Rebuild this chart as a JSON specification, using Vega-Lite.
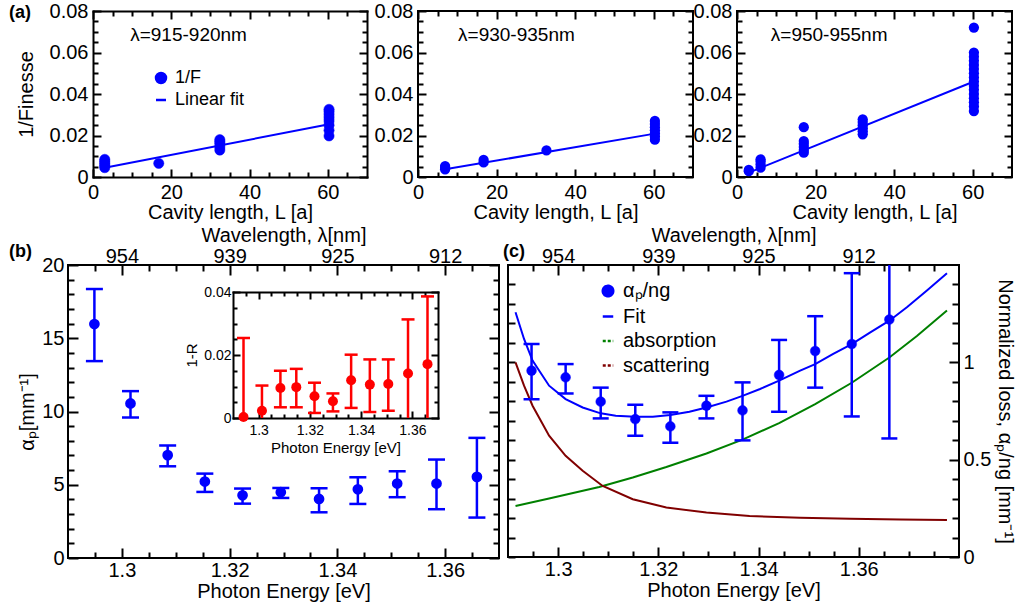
{
  "$schema": "https://vega.github.io/schema/vega-lite/v6.json",
  "background": "white",
  "autosize": {"type": "pad"},
  "padding": {"left": 8, "top": 0, "right": 0, "bottom": 0},
  "config": {
    "font": "Liberation Sans",
    "view": {"stroke": "black", "strokeWidth": 2},
    "axis": {"grid": false, "domain": false, "labelFont": "Liberation Sans", "titleFont": "Liberation Sans", "labelFontSize": 20, "titleFontSize": 20, "titleFontWeight": "normal", "labelColor": "black", "titleColor": "black", "tickColor": "black", "tickWidth": 2, "labelOverlap": false, "labelFlush": false},
    "legend": {"labelFont": "Liberation Sans", "labelColor": "black"},
    "title": {"font": "Liberation Sans", "color": "black"}
  },
  "spacing": 1,
  "resolve": {"scale": {"fill": "independent", "stroke": "independent", "shape": "independent", "strokeDash": "independent"}},
  "vconcat": [
    {
      "spacing": 5,
      "resolve": {"scale": {"fill": "independent", "stroke": "independent", "shape": "independent"}},
      "hconcat": [
        {
          "width": 299, "height": 166,
          "view": {"stroke": null},
          "title": {"text": "(a)", "frame": "group", "anchor": "start", "dx": -59, "offset": -21, "baseline": "top", "fontSize": 18, "fontWeight": "bold"},
          "layer": [
            {
              "data": {"values": [
                {"L": 3, "F": 0.0045, "s": "1/F"}, {"L": 3, "F": 0.0055, "s": "1/F"}, {"L": 3, "F": 0.0065, "s": "1/F"}, {"L": 3, "F": 0.0075, "s": "1/F"}, {"L": 3, "F": 0.0085, "s": "1/F"},
                {"L": 16.8, "F": 0.0066, "s": "1/F"},
                {"L": 32.4, "F": 0.013, "s": "1/F"}, {"L": 32.4, "F": 0.0145, "s": "1/F"}, {"L": 32.4, "F": 0.016, "s": "1/F"}, {"L": 32.4, "F": 0.017, "s": "1/F"}, {"L": 32.4, "F": 0.018, "s": "1/F"},
                {"L": 60.3, "F": 0.0198, "s": "1/F"}, {"L": 60.3, "F": 0.0225, "s": "1/F"}, {"L": 60.3, "F": 0.025, "s": "1/F"}, {"L": 60.3, "F": 0.027, "s": "1/F"}, {"L": 60.3, "F": 0.0285, "s": "1/F"}, {"L": 60.3, "F": 0.030, "s": "1/F"}, {"L": 60.3, "F": 0.0315, "s": "1/F"}, {"L": 60.3, "F": 0.0326, "s": "1/F"}
              ]},
              "mark": {"type": "point", "filled": true, "size": 105, "opacity": 1, "strokeWidth": 0.5},
              "encoding": {
                "x": {"field": "L", "type": "quantitative", "scale": {"domain": [0, 70], "nice": false, "zero": false, "range": [25, 299]},
                  "axis": {"orient": "bottom", "values": [0,5,10,15,20,25,30,35,40,45,50,55,60,65], "labelExpr": "datum.value % 20 == 0 ? datum.label : ''", "tickSize": {"condition": {"test": "datum.value % 20 == 0", "value": -8}, "value": -5}, "labelPadding": 13, "title": "Cavity length, L [a]", "titlePadding": -3, "domain": true, "domainWidth": 2, "domainColor": "black", "domainCap": "square"}},
                "y": {"field": "F", "type": "quantitative", "scale": {"domain": [0, 0.08], "nice": false},
                  "axis": {"orient": "left", "offset": -25, "values": [0,0.005,0.01,0.015,0.02,0.025,0.03,0.035,0.04,0.045,0.05,0.055,0.06,0.065,0.07,0.075,0.08], "labelExpr": "abs(datum.value*50-round(datum.value*50))<1e-6 ? (datum.value == 0 ? '0' : format(datum.value, '.2f')) : ''", "tickSize": {"condition": {"test": "abs(datum.value*50-round(datum.value*50))<1e-6", "value": -8}, "value": -5}, "labelPadding": 13, "title": "1/Finesse", "titlePadding": 13, "domain": true, "domainWidth": 2, "domainColor": "black", "domainCap": "square"}},
                "fill": {"field": "s", "type": "nominal", "scale": {"domain": ["1/F", "Linear fit"], "range": ["#0000ff", "#0000ff"]},
                  "legend": {"title": null, "orient": "none", "legendX": 84, "legendY": 58, "labelFontSize": 18, "symbolSize": 100, "symbolStrokeWidth": 2.5, "rowPadding": 3, "labelOffset": 5, "padding": 0}},
                "stroke": {"field": "s", "type": "nominal", "scale": {"domain": ["1/F", "Linear fit"], "range": ["#0000ff", "#0000ff"]}},
                "shape": {"field": "s", "type": "nominal", "scale": {"domain": ["1/F", "Linear fit"], "range": ["circle", "stroke"]}}
              }
            },
            {
              "data": {"values": [{"L": 3, "F": 0.0045}, {"L": 60.3, "F": 0.0254}]},
              "mark": {"type": "line", "color": "#0000ff", "strokeWidth": 2},
              "encoding": {
                "x": {"field": "L", "type": "quantitative", "axis": {"orient": "top", "values": [0,5,10,15,20,25,30,35,40,45,50,55,60,65], "labels": false, "title": null, "tickSize": {"condition": {"test": "datum.value % 20 == 0", "value": -8}, "value": -5}, "domain": true, "domainWidth": 2, "domainColor": "black", "domainCap": "square"}},
                "y": {"field": "F", "type": "quantitative", "axis": {"orient": "right", "values": [0,0.005,0.01,0.015,0.02,0.025,0.03,0.035,0.04,0.045,0.05,0.055,0.06,0.065,0.07,0.075,0.08], "labels": false, "title": null, "tickSize": {"condition": {"test": "abs(datum.value*50-round(datum.value*50))<1e-6", "value": -8}, "value": -5}, "domain": true, "domainWidth": 2, "domainColor": "black", "domainCap": "square"}}
              }
            },
            {
              "data": {"values": [{}]},
              "mark": {"type": "text", "align": "left", "baseline": "middle", "fontSize": 19, "font": "Liberation Sans", "color": "black"},
              "encoding": {
                "x": {"datum": 9.5, "type": "quantitative", "axis": null},
                "y": {"datum": 0.0685, "type": "quantitative", "axis": null},
                "text": {"value": "λ=915-920nm"}
              }
            }
          ],
          "resolve": {"axis": {"x": "independent", "y": "independent"}}
        },
        {
          "spacing": -3,
          "hconcat": [
            {
              "width": 275, "height": 166,
              "layer": [
                {
                  "data": {"values": [
                    {"L": 6.9, "F": 0.0037}, {"L": 6.9, "F": 0.0045}, {"L": 6.9, "F": 0.0053},
                    {"L": 16.7, "F": 0.007}, {"L": 16.7, "F": 0.0082},
                    {"L": 32.7, "F": 0.0128},
                    {"L": 60.3, "F": 0.018}, {"L": 60.3, "F": 0.0195}, {"L": 60.3, "F": 0.021}, {"L": 60.3, "F": 0.0225}, {"L": 60.3, "F": 0.024}, {"L": 60.3, "F": 0.0255}, {"L": 60.3, "F": 0.027}
                  ]},
                  "mark": {"type": "circle", "size": 105, "opacity": 1, "color": "#0000ff"},
                  "encoding": {
                    "x": {"field": "L", "type": "quantitative", "scale": {"domain": [0, 70], "nice": false, "zero": false},
                      "axis": {"orient": "bottom", "values": [0,5,10,15,20,25,30,35,40,45,50,55,60,65], "labelExpr": "datum.value % 20 == 0 ? datum.label : ''", "tickSize": {"condition": {"test": "datum.value % 20 == 0", "value": -8}, "value": -5}, "labelPadding": 13, "title": "Cavity length, L [a]", "titlePadding": -3}},
                    "y": {"field": "F", "type": "quantitative", "scale": {"domain": [0, 0.08], "nice": false},
                      "axis": {"orient": "left", "values": [0,0.005,0.01,0.015,0.02,0.025,0.03,0.035,0.04,0.045,0.05,0.055,0.06,0.065,0.07,0.075,0.08], "labelExpr": "abs(datum.value*50-round(datum.value*50))<1e-6 ? (datum.value == 0 ? '0' : format(datum.value, '.2f')) : ''", "tickSize": {"condition": {"test": "abs(datum.value*50-round(datum.value*50))<1e-6", "value": -8}, "value": -5}, "labelPadding": 13, "title": null}}
                  }
                },
                {
                  "data": {"values": [{"L": 6.9, "F": 0.0037}, {"L": 60.3, "F": 0.0209}]},
                  "mark": {"type": "line", "color": "#0000ff", "strokeWidth": 2},
                  "encoding": {
                    "x": {"field": "L", "type": "quantitative", "axis": {"orient": "top", "values": [0,5,10,15,20,25,30,35,40,45,50,55,60,65], "labels": false, "title": null, "tickSize": {"condition": {"test": "datum.value % 20 == 0", "value": -8}, "value": -5}}},
                    "y": {"field": "F", "type": "quantitative", "axis": {"orient": "right", "values": [0,0.005,0.01,0.015,0.02,0.025,0.03,0.035,0.04,0.045,0.05,0.055,0.06,0.065,0.07,0.075,0.08], "labels": false, "title": null, "tickSize": {"condition": {"test": "abs(datum.value*50-round(datum.value*50))<1e-6", "value": -8}, "value": -5}}}
                  }
                },
                {
                  "data": {"values": [{}]},
                  "mark": {"type": "text", "align": "left", "baseline": "middle", "fontSize": 19, "font": "Liberation Sans", "color": "black"},
                  "encoding": {
                    "x": {"datum": 10.2, "type": "quantitative", "axis": null},
                    "y": {"datum": 0.0685, "type": "quantitative", "axis": null},
                    "text": {"value": "λ=930-935nm"}
                  }
                }
              ],
              "resolve": {"axis": {"x": "independent", "y": "independent"}}
            },
            {
              "width": 275, "height": 166,
              "layer": [
                {
                  "data": {"values": [
                    {"L": 3, "F": 0.0028}, {"L": 3, "F": 0.0034},
                    {"L": 6, "F": 0.0045}, {"L": 6, "F": 0.006}, {"L": 6, "F": 0.0075}, {"L": 6, "F": 0.0085},
                    {"L": 17, "F": 0.0117}, {"L": 17, "F": 0.013}, {"L": 17, "F": 0.0145}, {"L": 17, "F": 0.016}, {"L": 17, "F": 0.0173}, {"L": 17, "F": 0.024},
                    {"L": 32, "F": 0.0206}, {"L": 32, "F": 0.022}, {"L": 32, "F": 0.0235}, {"L": 32, "F": 0.025}, {"L": 32, "F": 0.0265}, {"L": 32, "F": 0.0278},
                    {"L": 60.3, "F": 0.0318}, {"L": 60.3, "F": 0.034}, {"L": 60.3, "F": 0.036}, {"L": 60.3, "F": 0.038}, {"L": 60.3, "F": 0.040}, {"L": 60.3, "F": 0.042}, {"L": 60.3, "F": 0.044}, {"L": 60.3, "F": 0.046}, {"L": 60.3, "F": 0.048}, {"L": 60.3, "F": 0.050}, {"L": 60.3, "F": 0.052}, {"L": 60.3, "F": 0.054}, {"L": 60.3, "F": 0.056}, {"L": 60.3, "F": 0.058}, {"L": 60.3, "F": 0.060}, {"L": 60.3, "F": 0.072}
                  ]},
                  "mark": {"type": "circle", "size": 105, "opacity": 1, "color": "#0000ff"},
                  "encoding": {
                    "x": {"field": "L", "type": "quantitative", "scale": {"domain": [0, 70], "nice": false, "zero": false},
                      "axis": {"orient": "bottom", "values": [0,5,10,15,20,25,30,35,40,45,50,55,60,65], "labelExpr": "datum.value % 20 == 0 ? datum.label : ''", "tickSize": {"condition": {"test": "datum.value % 20 == 0", "value": -8}, "value": -5}, "labelPadding": 13, "title": "Cavity length, L [a]", "titlePadding": -3}},
                    "y": {"field": "F", "type": "quantitative", "scale": {"domain": [0, 0.08], "nice": false},
                      "axis": {"orient": "left", "values": [0,0.005,0.01,0.015,0.02,0.025,0.03,0.035,0.04,0.045,0.05,0.055,0.06,0.065,0.07,0.075,0.08], "labelExpr": "abs(datum.value*50-round(datum.value*50))<1e-6 ? (datum.value == 0 ? '0' : format(datum.value, '.2f')) : ''", "tickSize": {"condition": {"test": "abs(datum.value*50-round(datum.value*50))<1e-6", "value": -8}, "value": -5}, "labelPadding": 13, "title": null}}
                  }
                },
                {
                  "data": {"values": [{"L": 3, "F": 0.0021}, {"L": 60.3, "F": 0.046}]},
                  "mark": {"type": "line", "color": "#0000ff", "strokeWidth": 2},
                  "encoding": {
                    "x": {"field": "L", "type": "quantitative", "axis": {"orient": "top", "values": [0,5,10,15,20,25,30,35,40,45,50,55,60,65], "labels": false, "title": null, "tickSize": {"condition": {"test": "datum.value % 20 == 0", "value": -8}, "value": -5}}},
                    "y": {"field": "F", "type": "quantitative", "axis": {"orient": "right", "values": [0,0.005,0.01,0.015,0.02,0.025,0.03,0.035,0.04,0.045,0.05,0.055,0.06,0.065,0.07,0.075,0.08], "labels": false, "title": null, "tickSize": {"condition": {"test": "abs(datum.value*50-round(datum.value*50))<1e-6", "value": -8}, "value": -5}}}
                  }
                },
                {
                  "data": {"values": [{}]},
                  "mark": {"type": "text", "align": "left", "baseline": "middle", "fontSize": 19, "font": "Liberation Sans", "color": "black"},
                  "encoding": {
                    "x": {"datum": 8.6, "type": "quantitative", "axis": null},
                    "y": {"datum": 0.0685, "type": "quantitative", "axis": null},
                    "text": {"value": "λ=950-955nm"}
                  }
                }
              ],
              "resolve": {"axis": {"x": "independent", "y": "independent"}}
            }
          ]
        }
      ]
    },
    {
      "spacing": 1,
      "resolve": {"scale": {"fill": "independent", "stroke": "independent", "shape": "independent", "strokeDash": "independent"}},
      "hconcat": [
        {
          "width": 431, "height": 293,
          "title": {"text": "(b)", "frame": "group", "anchor": "start", "dx": -59, "offset": -36, "baseline": "top", "fontSize": 18, "fontWeight": "bold"},
          "layer": [
            {
              "data": {"values": [
                {"E": 1.2949, "a": 15.97, "lo": 13.44, "hi": 18.36},
                {"E": 1.3016, "a": 10.55, "lo": 9.59, "hi": 11.39},
                {"E": 1.3085, "a": 7.02, "lo": 6.26, "hi": 7.68},
                {"E": 1.3154, "a": 5.22, "lo": 4.51, "hi": 5.76},
                {"E": 1.3224, "a": 4.28, "lo": 3.71, "hi": 4.74},
                {"E": 1.3295, "a": 4.49, "lo": 4.10, "hi": 4.78},
                {"E": 1.3366, "a": 4.03, "lo": 3.12, "hi": 4.76},
                {"E": 1.3438, "a": 4.69, "lo": 3.69, "hi": 5.51},
                {"E": 1.3511, "a": 5.08, "lo": 4.15, "hi": 5.92},
                {"E": 1.3584, "a": 5.08, "lo": 3.33, "hi": 6.72},
                {"E": 1.3659, "a": 5.54, "lo": 2.76, "hi": 8.20}
              ]},
              "layer": [
                {
                  "mark": {"type": "rule", "color": "#0000ff", "strokeWidth": 2.5},
                  "encoding": {
                    "x": {"field": "E", "type": "quantitative", "scale": {"domain": [1.29, 1.37], "nice": false, "zero": false},
                      "axis": {"orient": "top", "values": [1.295,1.3,1.305,1.31,1.315,1.32,1.325,1.33,1.335,1.34,1.345,1.35,1.355,1.36,1.365], "labelExpr": "abs(datum.value*50-round(datum.value*50))<1e-6 ? format(1239.84/datum.value, '.0f') : ''", "tickSize": {"condition": {"test": "abs(datum.value*50-round(datum.value*50))<1e-6", "value": -10}, "value": -6}, "labelPadding": 9, "title": "Wavelength, λ[nm]", "titlePadding": -3}},
                    "y": {"field": "lo", "type": "quantitative", "scale": {"domain": [0, 20], "nice": false},
                      "axis": {"orient": "right", "values": [0,1,2,3,4,5,6,7,8,9,10,11,12,13,14,15,16,17,18,19,20], "labels": false, "title": null, "tickSize": {"condition": {"test": "datum.value % 5 == 0", "value": -10}, "value": -6}}},
                    "y2": {"field": "hi"}
                  }
                },
                {
                  "mark": {"type": "tick", "orient": "horizontal", "color": "#0000ff", "size": 17, "thickness": 2.5, "opacity": 1},
                  "encoding": {
                    "x": {"field": "E", "type": "quantitative", "axis": null},
                    "y": {"field": "hi", "type": "quantitative", "axis": null}
                  }
                },
                {
                  "mark": {"type": "tick", "orient": "horizontal", "color": "#0000ff", "size": 17, "thickness": 2.5, "opacity": 1},
                  "encoding": {
                    "x": {"field": "E", "type": "quantitative", "axis": null},
                    "y": {"field": "lo", "type": "quantitative", "axis": null}
                  }
                },
                {
                  "mark": {"type": "circle", "color": "#0000ff", "size": 115, "opacity": 1},
                  "encoding": {
                    "x": {"field": "E", "type": "quantitative",
                      "axis": {"orient": "bottom", "values": [1.295,1.3,1.305,1.31,1.315,1.32,1.325,1.33,1.335,1.34,1.345,1.35,1.355,1.36,1.365], "labelExpr": "abs(datum.value*50-round(datum.value*50))<1e-6 ? format(datum.value, '~g') : ''", "tickSize": {"condition": {"test": "abs(datum.value*50-round(datum.value*50))<1e-6", "value": -10}, "value": -6}, "labelPadding": 12, "title": "Photon Energy [eV]", "titlePadding": -3}},
                    "y": {"field": "a", "type": "quantitative",
                      "axis": {"orient": "left", "values": [0,1,2,3,4,5,6,7,8,9,10,11,12,13,14,15,16,17,18,19,20], "labelExpr": "datum.value % 5 == 0 ? datum.label : ''", "tickSize": {"condition": {"test": "datum.value % 5 == 0", "value": -10}, "value": -6}, "labelPadding": 14, "title": "αₚ[mm⁻¹]", "titlePadding": 4}}
                  }
                }
              ],
              "resolve": {"axis": {"x": "independent", "y": "independent"}}
            },
            {
              "data": {"values": [
                {"E": 1.2941, "r": 0.0003, "lo": 0, "hi": 0.0254},
                {"E": 1.3013, "r": 0.0023, "lo": 0, "hi": 0.0103},
                {"E": 1.3085, "r": 0.0095, "lo": 0.0034, "hi": 0.0150},
                {"E": 1.3147, "r": 0.0098, "lo": 0.0034, "hi": 0.0156},
                {"E": 1.3218, "r": 0.0069, "lo": 0.0016, "hi": 0.0112},
                {"E": 1.3290, "r": 0.0053, "lo": 0.0021, "hi": 0.0078},
                {"E": 1.3361, "r": 0.0120, "lo": 0.0032, "hi": 0.0201},
                {"E": 1.3434, "r": 0.0106, "lo": 0.0019, "hi": 0.0186},
                {"E": 1.3506, "r": 0.0108, "lo": 0.0023, "hi": 0.0186},
                {"E": 1.3583, "r": 0.0141, "lo": 0, "hi": 0.0313},
                {"E": 1.3659, "r": 0.0171, "lo": 0, "hi": 0.0386}
              ]},
              "layer": [
                {
                  "mark": {"type": "rule", "color": "#ff0000", "strokeWidth": 2.5},
                  "encoding": {
                    "x": {"field": "E", "type": "quantitative", "scale": {"domain": [1.29, 1.37], "nice": false, "zero": false, "range": [165, 370]},
                      "axis": {"orient": "top", "offset": -27, "values": [1.295,1.3,1.305,1.31,1.315,1.32,1.325,1.33,1.335,1.34,1.345,1.35,1.355,1.36,1.365], "labels": false, "title": null, "tickSize": {"condition": {"test": "abs(datum.value*50-round(datum.value*50))<1e-6", "value": -7}, "value": -4}, "domain": true, "domainWidth": 2, "domainColor": "black", "domainCap": "square"}},
                    "y": {"field": "lo", "type": "quantitative", "scale": {"domain": [0, 0.04], "nice": false, "range": [153, 27]},
                      "axis": {"orient": "right", "offset": -61, "values": [0,0.005,0.01,0.015,0.02,0.025,0.03,0.035,0.04], "labels": false, "title": null, "tickSize": {"condition": {"test": "abs(datum.value*50-round(datum.value*50))<1e-6", "value": -7}, "value": -4}, "domain": true, "domainWidth": 2, "domainColor": "black", "domainCap": "square"}},
                    "y2": {"field": "hi"}
                  }
                },
                {
                  "mark": {"type": "tick", "orient": "horizontal", "color": "#ff0000", "size": 13, "thickness": 2.5, "opacity": 1},
                  "encoding": {
                    "x": {"field": "E", "type": "quantitative", "axis": null},
                    "y": {"field": "hi", "type": "quantitative", "axis": null}
                  }
                },
                {
                  "transform": [{"filter": "datum.lo > 0"}],
                  "mark": {"type": "tick", "orient": "horizontal", "color": "#ff0000", "size": 13, "thickness": 2.5, "opacity": 1},
                  "encoding": {
                    "x": {"field": "E", "type": "quantitative", "axis": null},
                    "y": {"field": "lo", "type": "quantitative", "axis": null}
                  }
                },
                {
                  "mark": {"type": "circle", "color": "#ff0000", "size": 100, "opacity": 1},
                  "encoding": {
                    "x": {"field": "E", "type": "quantitative",
                      "axis": {"orient": "bottom", "offset": -140, "values": [1.295,1.3,1.305,1.31,1.315,1.32,1.325,1.33,1.335,1.34,1.345,1.35,1.355,1.36,1.365], "labelExpr": "abs(datum.value*50-round(datum.value*50))<1e-6 ? format(datum.value, '~g') : ''", "tickSize": {"condition": {"test": "abs(datum.value*50-round(datum.value*50))<1e-6", "value": -7}, "value": -4}, "labelPadding": 12, "labelFontSize": 14, "title": "Photon Energy [eV]", "titleFontSize": 15, "titlePadding": 0, "domain": true, "domainWidth": 2, "domainColor": "black", "domainCap": "square"}},
                    "y": {"field": "r", "type": "quantitative",
                      "axis": {"orient": "left", "offset": -165, "values": [0,0.005,0.01,0.015,0.02,0.025,0.03,0.035,0.04], "labelExpr": "abs(datum.value*50-round(datum.value*50))<1e-6 ? (datum.value == 0 ? '0' : format(datum.value, '.2f')) : ''", "tickSize": {"condition": {"test": "abs(datum.value*50-round(datum.value*50))<1e-6", "value": -7}, "value": -4}, "labelPadding": 9, "labelFontSize": 14, "title": "1-R", "titleFontSize": 15, "titlePadding": 4, "domain": true, "domainWidth": 2, "domainColor": "black", "domainCap": "square"}}
                  }
                }
              ],
              "resolve": {"axis": {"x": "independent", "y": "independent"}}
            }
          ],
          "resolve": {"scale": {"x": "independent", "y": "independent"}}
        },
        {
          "width": 451, "height": 292,
          "title": {"text": "(c)", "frame": "group", "anchor": "start", "dx": -5, "offset": -36, "baseline": "top", "fontSize": 18, "fontWeight": "bold"},
          "layer": [
            {
              "data": {"values": [
                {"E": 1.2915, "v": 1.257, "s": "Fit"}, {"E": 1.2932, "v": 1.120, "s": "Fit"}, {"E": 1.2949, "v": 1.009, "s": "Fit"}, {"E": 1.2982, "v": 0.880, "s": "Fit"}, {"E": 1.3015, "v": 0.811, "s": "Fit"}, {"E": 1.3049, "v": 0.768, "s": "Fit"}, {"E": 1.3085, "v": 0.738, "s": "Fit"}, {"E": 1.3115, "v": 0.726, "s": "Fit"}, {"E": 1.3154, "v": 0.720, "s": "Fit"}, {"E": 1.3189, "v": 0.720, "s": "Fit"}, {"E": 1.3224, "v": 0.729, "s": "Fit"}, {"E": 1.3262, "v": 0.746, "s": "Fit"}, {"E": 1.3296, "v": 0.768, "s": "Fit"}, {"E": 1.3336, "v": 0.798, "s": "Fit"}, {"E": 1.3368, "v": 0.828, "s": "Fit"}, {"E": 1.3403, "v": 0.863, "s": "Fit"}, {"E": 1.3441, "v": 0.906, "s": "Fit"}, {"E": 1.3483, "v": 0.957, "s": "Fit"}, {"E": 1.3513, "v": 0.991, "s": "Fit"}, {"E": 1.3549, "v": 1.043, "s": "Fit"}, {"E": 1.3586, "v": 1.094, "s": "Fit"}, {"E": 1.3623, "v": 1.154, "s": "Fit"}, {"E": 1.3661, "v": 1.214, "s": "Fit"}, {"E": 1.3696, "v": 1.283, "s": "Fit"}, {"E": 1.3736, "v": 1.369, "s": "Fit"}, {"E": 1.3776, "v": 1.458, "s": "Fit"},
                {"E": 1.2915, "v": 0.262, "s": "absorption"}, {"E": 1.2982, "v": 0.300, "s": "absorption"}, {"E": 1.3082, "v": 0.360, "s": "absorption"}, {"E": 1.3149, "v": 0.408, "s": "absorption"}, {"E": 1.3216, "v": 0.462, "s": "absorption"}, {"E": 1.3296, "v": 0.532, "s": "absorption"}, {"E": 1.3368, "v": 0.603, "s": "absorption"}, {"E": 1.3441, "v": 0.688, "s": "absorption"}, {"E": 1.3513, "v": 0.785, "s": "absorption"}, {"E": 1.3586, "v": 0.895, "s": "absorption"}, {"E": 1.3661, "v": 1.025, "s": "absorption"}, {"E": 1.3716, "v": 1.135, "s": "absorption"}, {"E": 1.3776, "v": 1.266, "s": "absorption"},
                {"E": 1.2915, "v": 1.0, "s": "scattering"}, {"E": 1.2932, "v": 0.880, "s": "scattering"}, {"E": 1.2949, "v": 0.777, "s": "scattering"}, {"E": 1.2982, "v": 0.623, "s": "scattering"}, {"E": 1.3015, "v": 0.520, "s": "scattering"}, {"E": 1.3049, "v": 0.443, "s": "scattering"}, {"E": 1.3089, "v": 0.365, "s": "scattering"}, {"E": 1.3149, "v": 0.297, "s": "scattering"}, {"E": 1.3216, "v": 0.254, "s": "scattering"}, {"E": 1.3296, "v": 0.228, "s": "scattering"}, {"E": 1.3382, "v": 0.211, "s": "scattering"}, {"E": 1.3483, "v": 0.201, "s": "scattering"}, {"E": 1.3583, "v": 0.196, "s": "scattering"}, {"E": 1.3683, "v": 0.192, "s": "scattering"}, {"E": 1.3776, "v": 0.190, "s": "scattering"}
              ]},
              "mark": {"type": "line", "strokeWidth": 2},
              "encoding": {
                "x": {"field": "E", "type": "quantitative", "scale": {"domain": [1.29, 1.38], "nice": false, "zero": false},
                  "axis": {"orient": "bottom", "values": [1.295,1.3,1.305,1.31,1.315,1.32,1.325,1.33,1.335,1.34,1.345,1.35,1.355,1.36,1.365,1.37,1.375], "labelExpr": "abs(datum.value*50-round(datum.value*50))<1e-6 ? format(datum.value, '~g') : ''", "tickSize": {"condition": {"test": "abs(datum.value*50-round(datum.value*50))<1e-6", "value": -10}, "value": -6}, "labelPadding": 12, "title": "Photon Energy [eV]", "titlePadding": -3}},
                "y": {"field": "v", "type": "quantitative", "scale": {"domain": [0, 1.5], "nice": false},
                  "axis": {"orient": "left", "values": [0,0.1,0.2,0.3,0.4,0.5,0.6,0.7,0.8,0.9,1,1.1,1.2,1.3,1.4], "labels": false, "title": null, "tickSize": -7}},
                "stroke": {"field": "s", "type": "nominal",
                  "scale": {"domain": ["αₚ/ng", "Fit", "absorption", "scattering"], "range": ["#0000ff", "#0000ff", "#008000", "#800000"]}}
              }
            },
            {
              "data": {"name": "cpts", "values": [
                {"E": 1.2947, "v": 0.957, "lo": 0.811, "hi": 1.094, "s": "αₚ/ng"},
                {"E": 1.3015, "v": 0.923, "lo": 0.840, "hi": 0.991, "s": "αₚ/ng"},
                {"E": 1.3085, "v": 0.798, "lo": 0.712, "hi": 0.870, "s": "αₚ/ng"},
                {"E": 1.3154, "v": 0.708, "lo": 0.623, "hi": 0.782, "s": "αₚ/ng"},
                {"E": 1.3224, "v": 0.671, "lo": 0.587, "hi": 0.743, "s": "αₚ/ng"},
                {"E": 1.3296, "v": 0.777, "lo": 0.712, "hi": 0.828, "s": "αₚ/ng"},
                {"E": 1.3368, "v": 0.753, "lo": 0.599, "hi": 0.897, "s": "αₚ/ng"},
                {"E": 1.3441, "v": 0.935, "lo": 0.746, "hi": 1.115, "s": "αₚ/ng"},
                {"E": 1.3513, "v": 1.058, "lo": 0.870, "hi": 1.237, "s": "αₚ/ng"},
                {"E": 1.3586, "v": 1.094, "lo": 0.722, "hi": 1.458, "s": "αₚ/ng"},
                {"E": 1.3661, "v": 1.220, "lo": 0.609, "hi": 1.62, "s": "αₚ/ng"}
              ]},
              "mark": {"type": "rule", "color": "#0000ff", "strokeWidth": 2.5, "clip": true},
              "encoding": {
                "x": {"field": "E", "type": "quantitative",
                  "axis": {"orient": "top", "values": [1.295,1.3,1.305,1.31,1.315,1.32,1.325,1.33,1.335,1.34,1.345,1.35,1.355,1.36,1.365,1.37,1.375], "labelExpr": "abs(datum.value*50-round(datum.value*50))<1e-6 ? format(1239.84/datum.value, '.0f') : ''", "tickSize": {"condition": {"test": "abs(datum.value*50-round(datum.value*50))<1e-6", "value": -10}, "value": -6}, "labelPadding": 9, "title": "Wavelength, λ[nm]", "titlePadding": -3}},
                "y": {"field": "lo", "type": "quantitative",
                  "axis": {"orient": "right", "values": [0,0.1,0.2,0.3,0.4,0.5,0.6,0.7,0.8,0.9,1,1.1,1.2,1.3,1.4], "labelExpr": "abs(datum.value*2-round(datum.value*2))<1e-6 ? format(datum.value, '~g') : ''", "tickSize": {"condition": {"test": "abs(datum.value*2-round(datum.value*2))<1e-6", "value": -10}, "value": -7}, "labelPadding": 14, "title": "Normalized loss, αₚ/ng [mm⁻¹]", "titlePadding": 4}},
                "y2": {"field": "hi"}
              }
            },
            {
              "data": {"name": "cpts"},
              "mark": {"type": "tick", "orient": "horizontal", "color": "#0000ff", "size": 16, "thickness": 2.5, "opacity": 1, "clip": true},
              "encoding": {
                "x": {"field": "E", "type": "quantitative", "axis": null},
                "y": {"field": "hi", "type": "quantitative", "axis": null}
              }
            },
            {
              "data": {"name": "cpts"},
              "mark": {"type": "tick", "orient": "horizontal", "color": "#0000ff", "size": 16, "thickness": 2.5, "opacity": 1},
              "encoding": {
                "x": {"field": "E", "type": "quantitative", "axis": null},
                "y": {"field": "lo", "type": "quantitative", "axis": null}
              }
            },
            {
              "data": {"name": "cpts"},
              "mark": {"type": "point", "filled": true, "size": 95, "opacity": 1, "strokeWidth": 0.5},
              "encoding": {
                "x": {"field": "E", "type": "quantitative", "axis": null},
                "y": {"field": "v", "type": "quantitative", "axis": null},
                "fill": {"field": "s", "type": "nominal",
                  "scale": {"domain": ["αₚ/ng", "Fit", "absorption", "scattering"], "range": ["#0000ff", "#0000ff", "#008000", "#800000"]},
                  "legend": {"title": null, "orient": "none", "legendX": 90, "legendY": 16, "labelFontSize": 20, "symbolSize": 110, "symbolStrokeWidth": 2.5, "rowPadding": 4.5, "labelOffset": 5, "padding": 0}},
                "stroke": {"field": "s", "type": "nominal"},
                "strokeDash": {"field": "s", "type": "nominal", "scale": {"domain": ["αₚ/ng", "Fit", "absorption", "scattering"], "range": [[1, 0], [1, 0], [3, 2], [3, 2]]}},
                "shape": {"field": "s", "type": "nominal", "scale": {"domain": ["αₚ/ng", "Fit", "absorption", "scattering"], "range": ["circle", "stroke", "stroke", "stroke"]}}
              }
            }
          ],
          "resolve": {"axis": {"x": "independent", "y": "independent"}}
        }
      ]
    }
  ]
}
